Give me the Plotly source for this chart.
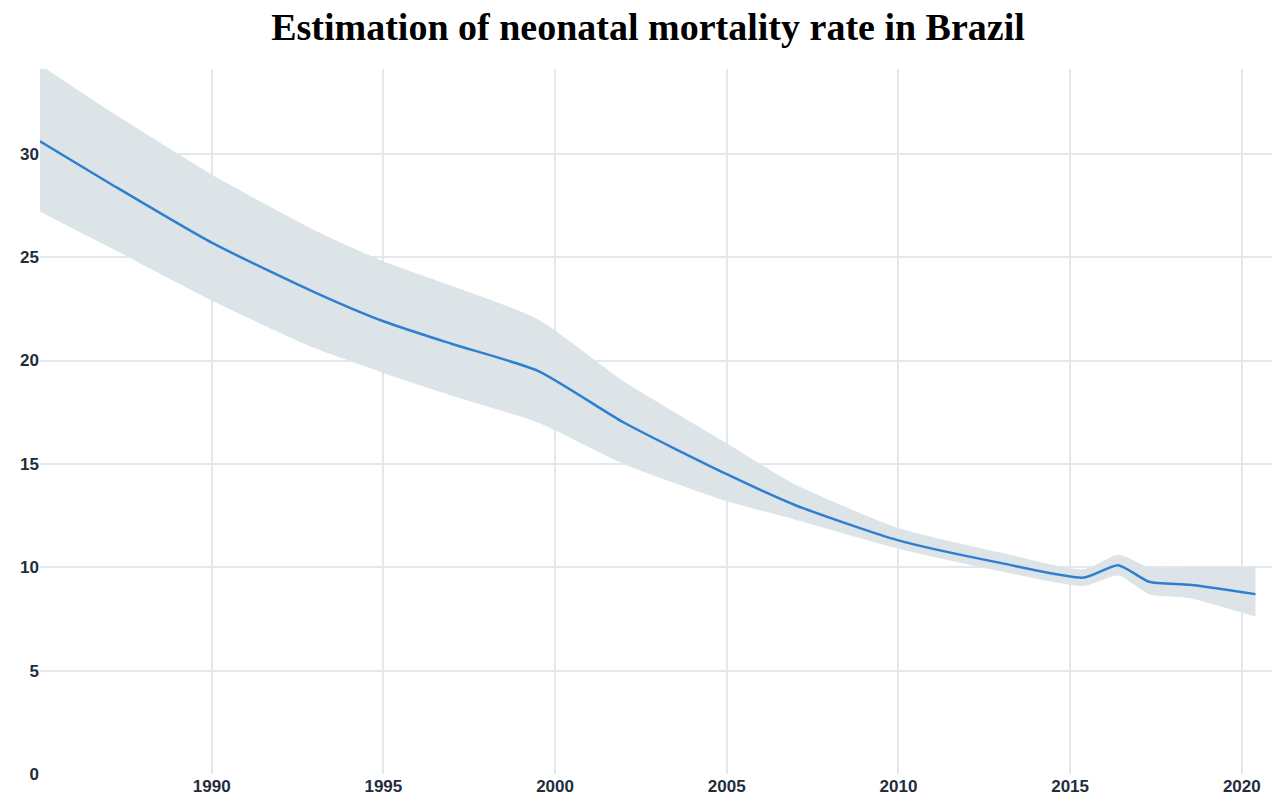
import plotly.graph_objects as go

years = [1985, 1987, 1990, 1993, 1995, 1997, 1999.5, 2002, 2005, 2007, 2010, 2013, 2015.4, 2016.4, 2017.3, 2018.5, 2020.4]
rate  = [30.6, 28.6, 25.7, 23.3, 21.9, 20.8, 19.5, 17.0, 14.5, 13.0, 11.3, 10.2, 9.5, 10.1, 9.3, 9.15, 8.7]
upper = [34.3, 32.1, 29.0, 26.3, 24.8, 23.6, 22.0, 19.0, 16.0, 14.0, 11.9, 10.7, 9.9, 10.6, 10.0, 10.0, 10.0]
lower = [27.2, 25.5, 22.9, 20.6, 19.4, 18.3, 17.0, 15.0, 13.2, 12.3, 10.9, 9.8, 9.1, 9.6, 8.7, 8.5, 7.6]

fig = go.Figure()
fig.add_trace(go.Scatter(x=years, y=upper, mode="lines", line=dict(width=0, shape="spline", smoothing=0.6),
                         hoverinfo="skip", showlegend=False))
fig.add_trace(go.Scatter(x=years, y=lower, mode="lines", line=dict(width=0, shape="spline", smoothing=0.6),
                         fill="tonexty", fillcolor="#dde4e8", hoverinfo="skip", showlegend=False))
fig.add_trace(go.Scatter(x=years, y=rate, mode="lines",
                         line=dict(color="#2f7fd0", width=2.5, shape="spline", smoothing=0.6), showlegend=False))

tf = dict(family="Liberation Sans", size=17, color="#1f2d3d", weight=600)
fig.update_layout(
    width=1280, height=804, paper_bgcolor="white", plot_bgcolor="white",
    margin=dict(l=32, r=5, t=61, b=38),
    title=dict(text="<b>Estimation of neonatal mortality rate in Brazil</b>", x=0.5, xanchor="center",
               y=0.977, yanchor="middle", font=dict(family="Liberation Serif", size=38, color="black")),
    xaxis=dict(range=[1985, 2021.2], tickvals=[1990, 1995, 2000, 2005, 2010, 2015, 2020],
               showgrid=True, gridcolor="#e3e8ec", gridwidth=1.5, zeroline=False,
               tickfont=tf, ticks="", showline=False),
    yaxis=dict(range=[0, 34.1], tickvals=[0, 5, 10, 15, 20, 25, 30],
               showgrid=True, gridcolor="#e3e8ec", gridwidth=1.5, zeroline=False,
               tickfont=tf, ticks="", showline=False),
)
fig.write_html("out.html")
